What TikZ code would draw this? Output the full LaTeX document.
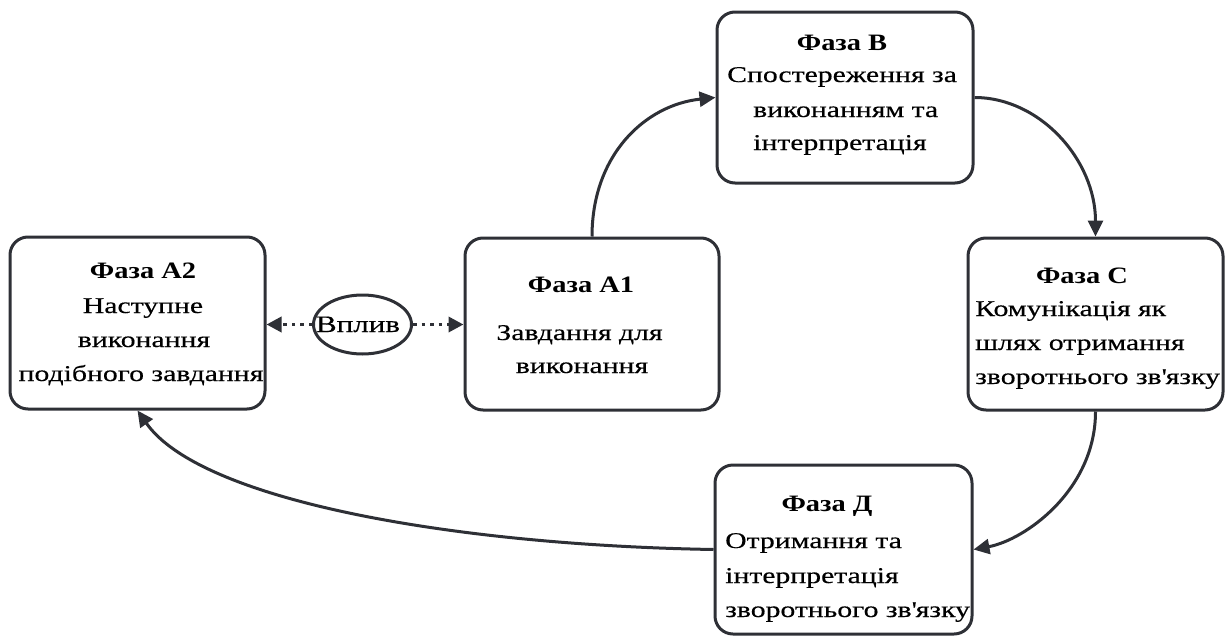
\documentclass[tikz,border=0pt]{standalone}
\usepackage{fontspec}
\setmainfont{Liberation Serif}[FakeStretch=1.32,FakeBold=0.4]
\newfontfamily\ttlfont{Liberation Serif Bold}[FakeStretch=1.21]
\usetikzlibrary{arrows.meta,shapes.geometric}
\definecolor{ink}{HTML}{2E3036}
\begin{document}
\begin{tikzpicture}[x=1pt,y=-1pt,
  box/.style={draw=ink,line width=3pt,rounded corners=18pt,inner sep=0pt},
  txt/.style={font=\fontsize{22.5}{30}\selectfont,inner sep=0pt,text=black},
  ttl/.style={font=\ttlfont\fontsize{23.5}{30}\selectfont,inner sep=0pt,text=black},
  conn/.style={draw=ink,line width=3pt,-{Triangle[length=16pt,width=15pt]}},
  dotconn/.style={draw=ink,line width=3.5pt,dash pattern=on 3.5pt off 5pt,-{Triangle[length=15pt,width=15pt]}}]
\useasboundingbox (0,0) rectangle (1225,637);
% boxes
\node[box,minimum width=255pt,minimum height=172pt] (a2) at (137.5,323) {};
\node[box,minimum width=254pt,minimum height=172pt] (a1) at (592,324) {};
\node[box,minimum width=256pt,minimum height=171pt] (b) at (845,97.5) {};
\node[box,minimum width=255pt,minimum height=172pt] (c) at (1095.5,324) {};
\node[box,minimum width=257pt,minimum height=169pt] (d) at (843.5,549.5) {};
\node[draw=ink,line width=3pt,ellipse,minimum width=98pt,minimum height=59pt,inner sep=0pt] (vp) at (362.5,324.5) {};
% texts
\node[ttl,anchor=base] (a2t) at (143,278) {Фаза A2};
\node[txt,anchor=base] (a2l1) at (143,313) {Наступне};
\node[txt,anchor=base] (a2l2) at (144,347) {виконання};
\node[txt,anchor=base] (a2l3) at (141,381) {подібного завдання};
\node[ttl,anchor=base] (a1t) at (581,292) {Фаза A1};
\node[txt,anchor=base] (a1l1) at (579.5,340) {Завдання для};
\node[txt,anchor=base] (a1l2) at (582,373) {виконання};
\node[ttl,anchor=base] (bt) at (842,50) {Фаза B};
\node[txt,anchor=base west] (bl1) at (727,82) {Спостереження за};
\node[txt,anchor=base west] (bl2) at (753,117) {виконанням та};
\node[txt,anchor=base west] (bl3) at (753,150) {інтерпретація};
\node[ttl,anchor=base] (ct) at (1082,283) {Фаза C};
\node[txt,anchor=base west] (cl1) at (975,316) {Комунікація як};
\node[txt,anchor=base west] (cl2) at (975,350) {шлях отримання};
\node[txt,anchor=base west] (cl3) at (975,384) {зворотнього зв\textquotesingle язку};
\node[ttl,anchor=base] (dt) at (827,511) {Фаза Д};
\node[txt,anchor=base west] (dl1) at (725,548) {Отримання та};
\node[txt,anchor=base west] (dl2) at (725,583) {інтерпретація};
\node[txt,anchor=base west] (dl3) at (725,617) {зворотнього зв\textquotesingle язку};
\node[txt,anchor=base,font=\fontsize{23.5}{30}\selectfont] (vpt) at (358,332) {Вплив};
% connectors
\draw[dotconn] (vp.west) -- (vp.west -| a2.east);
\draw[dotconn] (vp.east) -- (vp.east -| a1.west);
\draw[conn] (a1.north) .. controls (592,155) and (645,105) .. (b.west);
\draw[conn] (b.east) .. controls (1040,97.5) and (1095.5,160) .. (c.north);
\draw[conn] (c.south) .. controls (1095.5,490) and (1025,540) .. (d.east);
\draw[conn] (d.west) .. controls (450,545) and (200,500) .. (a2.south);
\end{tikzpicture}
\end{document}
